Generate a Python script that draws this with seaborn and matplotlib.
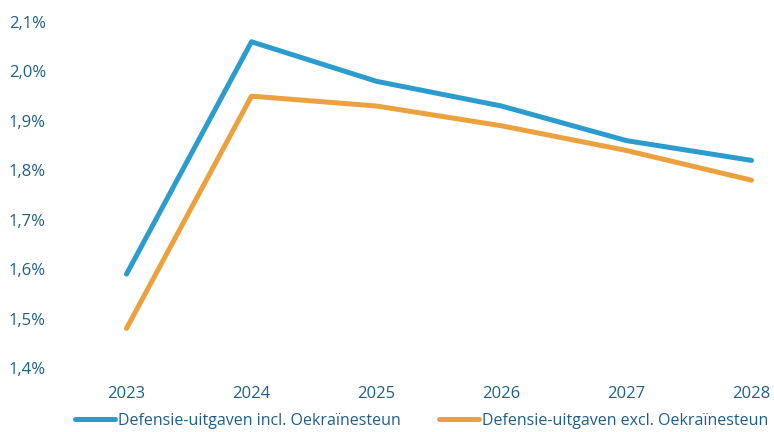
import matplotlib
matplotlib.use("Agg")
import matplotlib.pyplot as plt
from matplotlib.ticker import FuncFormatter
import seaborn as sns
import pandas as pd

years = ["2023", "2024", "2025", "2026", "2027", "2028"]
incl_oekraine = [1.59, 2.06, 1.98, 1.93, 1.86, 1.82]
excl_oekraine = [1.48, 1.95, 1.93, 1.89, 1.84, 1.78]
series_names = ["Defensie-uitgaven incl. Oekraïnesteun",
                "Defensie-uitgaven excl. Oekraïnesteun"]
y_ticks = [1.4, 1.5, 1.6, 1.7, 1.8, 1.9, 2.0, 2.1]

df = pd.DataFrame({
    "jaar": years * 2,
    "pos": list(range(len(years))) * 2,
    "waarde": incl_oekraine + excl_oekraine,
    "reeks": [series_names[0]] * len(years) + [series_names[1]] * len(years),
})

sns.set_theme(style="white")
plt.rcParams["font.family"] = ["Open Sans", "DejaVu Sans"]

text_color = "#1F5E8A"
palette = {series_names[0]: "#2B9CCD", series_names[1]: "#EBA23E"}

fig = plt.figure(figsize=(7.74, 4.32), dpi=100)
ax = fig.add_axes([64 / 774, 1 - 368 / 432, (774 - 64) / 774, (368 - 22) / 432])

sns.lineplot(data=df, x="pos", y="waarde", hue="reeks", palette=palette,
             linewidth=3.6, ax=ax, solid_capstyle="round", sort=False)

ax.set_xlim(-0.5, 5.18)
ax.set_ylim(1.4, 2.1)
ax.set_xticks(range(len(years)))
ax.set_xticklabels(years)
ax.set_yticks(y_ticks)
ax.yaxis.set_major_formatter(FuncFormatter(lambda v, _: f"{v:.1f}%".replace(".", ",")))
ax.set_xlabel("")
ax.set_ylabel("")
for s in ax.spines.values():
    s.set_visible(False)
ax.tick_params(axis="x", length=0, pad=13, labelsize=12, labelcolor=text_color)
ax.tick_params(axis="y", length=0, pad=13, labelsize=12, labelcolor=text_color)

sns.move_legend(ax, "center", bbox_to_anchor=(421.5 / 774, 1 - 421 / 432),
                bbox_transform=fig.transFigure,
                ncol=2, frameon=False, title=None, fontsize=11.5,
                handlelength=2.5, handletextpad=0.2, columnspacing=2.4)
for t in ax.get_legend().get_texts():
    t.set_color(text_color)
for h in ax.get_legend().get_lines():
    h.set_linewidth(3.6)
    h.set_solid_capstyle("round")

fig.savefig("out.png", dpi=100)
